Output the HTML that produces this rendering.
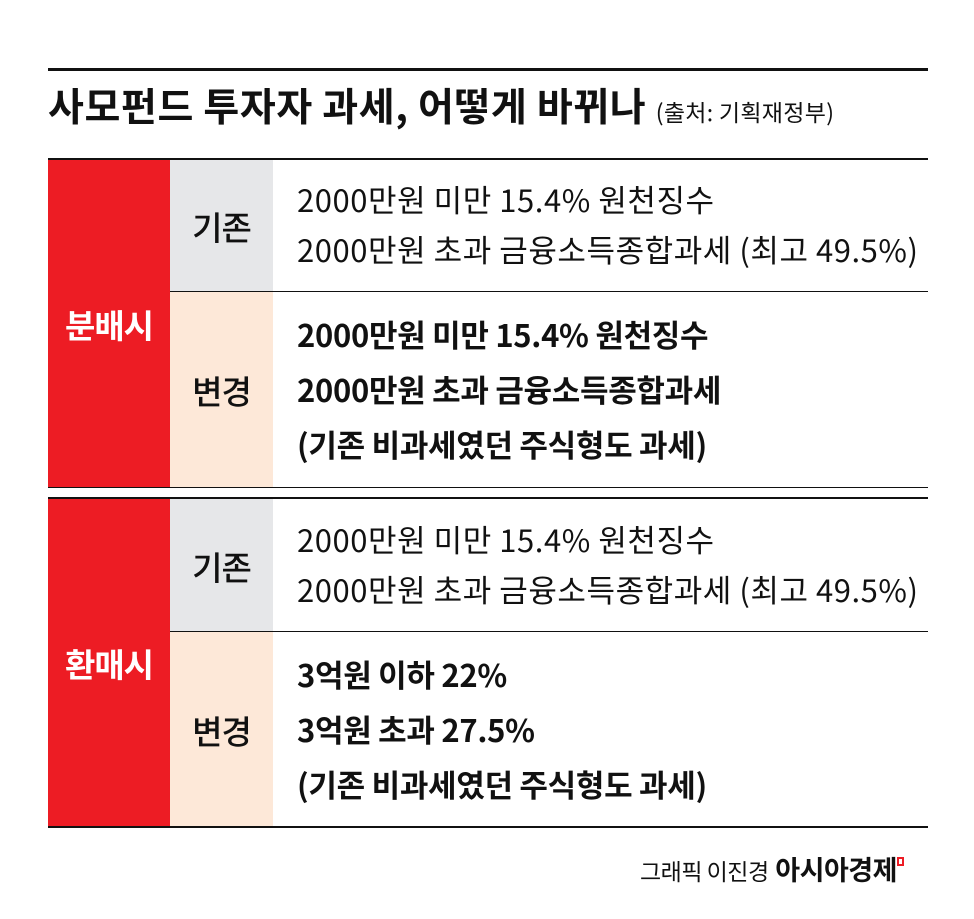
<!DOCTYPE html>
<html><head><meta charset="utf-8"><style>
body{margin:0;width:974px;height:919px;background:#fff;position:relative;overflow:hidden;font-family:"Liberation Sans","Noto Sans CJK KR",sans-serif;color:#111}
div{position:absolute;box-sizing:border-box}
.ln{background:#111;left:48px;width:880px}
.red{left:48px;width:122px;background:#ed1c24;color:#fff;font-size:33px;font-weight:bold;display:flex;align-items:center;justify-content:center;font-family:"Noto Sans CJK KR",sans-serif;letter-spacing:-1px}
.lab{left:170px;width:103px;font-size:33px;display:flex;align-items:center;justify-content:center;font-family:"Noto Sans CJK KR",sans-serif;font-weight:500;letter-spacing:-1px}
.g{background:#e6e7e9}.p{background:#fde8d8}
.t{left:297px;font-size:31px;letter-spacing:0.55px;white-space:nowrap;font-family:"Noto Sans CJK KR",sans-serif;line-height:1}
.b{font-weight:bold;letter-spacing:-0.3px}
</style></head><body>
<div class="ln" style="top:68px;height:3px"></div>
<div style="left:48px;top:82px;font-size:39px;font-weight:bold;letter-spacing:0.6px;font-family:'Noto Sans CJK KR',sans-serif;white-space:nowrap;line-height:1.2">사모펀드 투자자 과세, 어떻게 바뀌나 <span style="font-size:23px;font-weight:normal;letter-spacing:0.3px">(출처: 기획재정부)</span></div>
<div class="ln" style="top:158px;height:2px"></div>

<div class="red" style="top:160px;height:327px">분배시</div>
<div class="lab g" style="top:160px;height:132px">기존</div>
<div class="ln" style="left:170px;width:758px;top:291px;height:1px"></div>
<div class="lab p" style="top:292px;height:195px">변경</div>
<div class="t" style="top:183px">2000만원 미만 15.4% 원천징수</div>
<div class="t" style="top:233px">2000만원 초과 금융소득종합과세 (최고 49.5%)</div>
<div class="t b" style="top:318px">2000만원 미만 15.4% 원천징수</div>
<div class="t b" style="top:373px">2000만원 초과 금융소득종합과세</div>
<div class="t b" style="top:428px">(기존 비과세였던 주식형도 과세)</div>
<div class="ln" style="top:487px;height:1px"></div>
<div class="ln" style="top:497px;height:2px"></div>

<div class="red" style="top:499px;height:328px">환매시</div>
<div class="lab g" style="top:499px;height:133px">기존</div>
<div class="ln" style="left:170px;width:758px;top:631px;height:1px"></div>
<div class="lab p" style="top:632px;height:195px">변경</div>
<div class="t" style="top:523px">2000만원 미만 15.4% 원천징수</div>
<div class="t" style="top:573px">2000만원 초과 금융소득종합과세 (최고 49.5%)</div>
<div class="t b" style="top:658px">3억원 이하 22%</div>
<div class="t b" style="top:713px">3억원 초과 27.5%</div>
<div class="t b" style="top:768px">(기존 비과세였던 주식형도 과세)</div>
<div class="ln" style="top:826px;height:2px"></div>

<div style="left:640px;top:853px;font-size:23px;letter-spacing:-0.5px;font-family:'Noto Sans CJK KR',sans-serif;white-space:nowrap;line-height:1.2">그래픽 이진경 <b style="font-size:27px;margin-left:2px">아시아경제</b></div>
<div style="left:897px;top:857px;width:7px;height:9px;border:2px solid #ed1c24"></div>
</body></html>
